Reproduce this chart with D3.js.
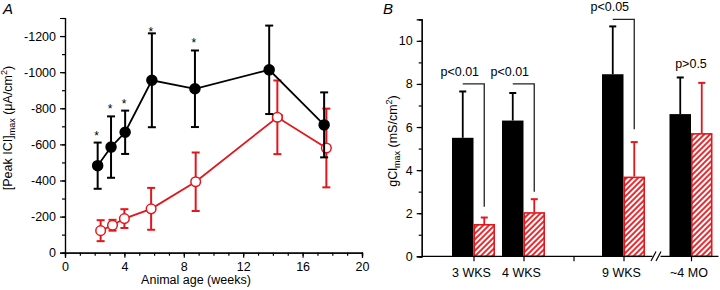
<!DOCTYPE html>
<html>
<head>
<meta charset="utf-8">
<script src="https://cdn.jsdelivr.net/npm/d3@7"></script>
<style>
  body { margin: 0; background: #fff; }
  svg { display: block; font-family: "Liberation Sans", Arial, sans-serif; }
</style>
</head>
<body>
<div id="chart"></div>
<script>
// Panel A: peak chloride current vs animal age
const ageWT = [2.2, 3.1, 4.05, 5.85, 8.75, 13.75, 17.45];
const peakWT = [-482, -585, -667, -955, -908, -1013, -708];
const errWT = [128, 170, 120, 260, 212, 245, 180];
const starWT = [true, true, true, true, true, false, false];

const ageMut = [2.4, 3.2, 4.0, 5.8, 8.8, 14.3, 17.6];
const peakMut = [-122, -152, -189, -243, -393, -750, -580];
const errMut = [58, 30, 52, 116, 162, 204, 218];
const xerrMut = [0, 0.2, 0, 0, 0, 0.3, 0];

// Panel B: gCl max per age group
const groups = ["3 WKS", "4 WKS", "9 WKS", "~4 MO"];
const groupPos = [1, 2, 4, 5.35];
const gclWT = [5.5, 6.3, 8.45, 6.6];
const gclWTErr = [2.15, 1.28, 2.22, 1.7];
const gclMut = [1.5, 2.05, 3.7, 5.72];
const gclMutErr = [0.3, 0.6, 1.6, 2.33];
const pLabels = ["p<0.01", "p<0.01", "p<0.05", "p>0.5"];
const bracketTop = [8, 8, 11, null];
const bracketBottom = [2.3, 3.0, 5.9, null];

const RED = "#e3161c";
const W = 720, H = 290;
const svg = d3.select("#chart").append("svg").attr("width", W).attr("height", H);

const defs = svg.append("defs");
const pat = defs.append("pattern")
  .attr("id", "hatch").attr("patternUnits", "userSpaceOnUse")
  .attr("width", 4).attr("height", 4)
  .attr("patternTransform", "rotate(45)");
pat.append("rect").attr("width", 4).attr("height", 4).attr("fill", "#fff");
pat.append("line").attr("x1", 1).attr("y1", 0).attr("x2", 1).attr("y2", 4)
  .attr("stroke", RED).attr("stroke-width", 1.8);

function styleAxis(g) {
  g.select(".domain").attr("stroke", "#000").attr("stroke-width", 1.2);
  g.selectAll(".tick line").attr("stroke", "#000").attr("stroke-width", 1.2);
  g.selectAll(".tick text").attr("fill", "#000").style("font-size", "12.5px")
    .style("font-family", "'Liberation Sans', Arial, sans-serif");
}

// ---------- Panel A ----------
const xA = d3.scaleLinear().domain([0, 20]).range([65, 362]);
const yA = d3.scaleLinear().domain([0, -1300]).range([252.7, 18]);
const gA = svg.append("g");

// minor ticks
gA.append("g").attr("transform", "translate(0,252.7)")
  .call(d3.axisBottom(xA).tickValues(d3.range(0, 21, 1)).tickSize(3).tickFormat(""))
  .call(styleAxis);
gA.append("g").attr("transform", "translate(65,0)")
  .call(d3.axisLeft(yA).tickValues(d3.range(0, -1301, -100)).tickSize(3).tickFormat(""))
  .call(styleAxis);
// major ticks
gA.append("g").attr("transform", "translate(0,252.7)")
  .call(d3.axisBottom(xA).tickValues([0, 4, 8, 12, 16, 20]).tickSize(5).tickPadding(4).tickFormat(d => String(d)))
  .call(styleAxis);
gA.append("g").attr("transform", "translate(65,0)")
  .call(d3.axisLeft(yA).tickValues(d3.range(0, -1201, -200)).tickSize(5).tickPadding(4).tickFormat(d => String(d)))
  .call(styleAxis);

gA.append("text").attr("x", 196).attr("y", 284).attr("text-anchor", "middle")
  .style("font-size", "12.5px").text("Animal age (weeks)");
const ylabA = gA.append("text").attr("transform", "translate(12,128) rotate(-90)")
  .attr("text-anchor", "middle").style("font-size", "12.5px");
ylabA.append("tspan").text("[Peak ICI]");
ylabA.append("tspan").attr("dy", 3).style("font-size", "9px").text("max");
ylabA.append("tspan").attr("dy", -3).text(" (\u03BCA/cm");
ylabA.append("tspan").attr("dy", -5).style("font-size", "9px").text("2");
ylabA.append("tspan").attr("dy", 5).text(")");
svg.append("text").attr("x", 3).attr("y", 14).style("font-size", "15px")
  .style("font-style", "italic").text("A");

function series(ages, vals, errs, color, filled, xerrs) {
  const g = gA.append("g");
  const idx = d3.range(ages.length);
  const line = d3.line().x(i => xA(ages[i])).y(i => yA(vals[i]));
  g.append("path").datum(idx).attr("d", line).attr("fill", "none")
    .attr("stroke", color).attr("stroke-width", 1.8);
  idx.forEach(i => {
    const x = xA(ages[i]);
    const y1 = yA(vals[i] - errs[i]), y2 = yA(vals[i] + errs[i]);
    g.append("line").attr("x1", x).attr("x2", x).attr("y1", y1).attr("y2", y2)
      .attr("stroke", color).attr("stroke-width", 2);
    [y1, y2].forEach(y => g.append("line").attr("x1", x - 4).attr("x2", x + 4)
      .attr("y1", y).attr("y2", y).attr("stroke", color).attr("stroke-width", 2));
    if (xerrs && xerrs[i] > 0) {
      const xa = xA(ages[i] - xerrs[i]), xb = xA(ages[i] + xerrs[i]), y = yA(vals[i]);
      g.append("line").attr("x1", xa).attr("x2", xb).attr("y1", y).attr("y2", y)
        .attr("stroke", color).attr("stroke-width", 2);
      [xa, xb].forEach(xx => g.append("line").attr("x1", xx).attr("x2", xx)
        .attr("y1", y - 3).attr("y2", y + 3).attr("stroke", color).attr("stroke-width", 2));
    }
  });
  g.selectAll("circle").data(idx).join("circle")
    .attr("cx", i => xA(ages[i])).attr("cy", i => yA(vals[i])).attr("r", filled ? 5 : 4.8)
    .attr("fill", filled ? color : "#fff").attr("stroke", color).attr("stroke-width", 1.5);
}
series(ageMut, peakMut, errMut, RED, false, xerrMut);
series(ageWT, peakWT, errWT, "#000", true, null);

ageWT.forEach((a, i) => {
  if (!starWT[i]) return;
  const top = yA(peakWT[i] - errWT[i]);
  gA.append("text").attr("x", xA(a) - 1).attr("y", Math.max(top - 3, 36))
    .attr("text-anchor", "middle").style("font-size", "12px").text("*");
});

// ---------- Panel B ----------
const xB = d3.scaleLinear().domain([0, 5.9]).range([423.5, 718.5]);
const yB = d3.scaleLinear().domain([0, 11]).range([256.3, 19.3]);
const gB = svg.append("g");
const bw = 0.43;

gB.append("g").attr("transform", "translate(421.7,0)")
  .call(d3.axisLeft(yB).tickValues(d3.range(0, 12, 1)).tickSize(3).tickFormat(""))
  .call(styleAxis);
gB.append("g").attr("transform", "translate(421.7,0)")
  .call(d3.axisLeft(yB).tickValues([0, 2, 4, 6, 8, 10]).tickSize(5).tickPadding(4))
  .call(styleAxis);

const bars = gB.append("g");
groupPos.forEach((p, i) => {
  const x0 = xB(p - bw), x1 = xB(p), x2 = xB(p + bw);
  // WT error bar
  const cw = (x1 - x0) / 2 + x0;
  bars.append("line").attr("x1", cw).attr("x2", cw)
    .attr("y1", yB(gclWT[i])).attr("y2", yB(gclWT[i] + gclWTErr[i]))
    .attr("stroke", "#000").attr("stroke-width", 1.8);
  bars.append("line").attr("x1", cw - 3.5).attr("x2", cw + 3.5)
    .attr("y1", yB(gclWT[i] + gclWTErr[i])).attr("y2", yB(gclWT[i] + gclWTErr[i]))
    .attr("stroke", "#000").attr("stroke-width", 2);
  bars.append("rect").attr("x", x0).attr("y", yB(gclWT[i]))
    .attr("width", x1 - x0).attr("height", yB(0) - yB(gclWT[i])).attr("fill", "#000");
  // mutant
  const cm = (x2 - x1) / 2 + x1;
  bars.append("line").attr("x1", cm).attr("x2", cm)
    .attr("y1", yB(gclMut[i])).attr("y2", yB(gclMut[i] + gclMutErr[i]))
    .attr("stroke", RED).attr("stroke-width", 1.8);
  bars.append("line").attr("x1", cm - 3.5).attr("x2", cm + 3.5)
    .attr("y1", yB(gclMut[i] + gclMutErr[i])).attr("y2", yB(gclMut[i] + gclMutErr[i]))
    .attr("stroke", RED).attr("stroke-width", 2);
  bars.append("rect").attr("x", x1 + 0.8).attr("y", yB(gclMut[i]) + 0.8)
    .attr("width", x2 - x1 - 1.6).attr("height", yB(0) - yB(gclMut[i]) - 0.8)
    .attr("fill", "url(#hatch)").attr("stroke", RED).attr("stroke-width", 1.6);

  // brackets and p labels
  if (bracketTop[i] != null) {
    const yt = yB(bracketTop[i]);
    bars.append("path")
      .attr("d", `M${cw},${yt}H${cm}V${yB(bracketBottom[i])}`)
      .attr("fill", "none").attr("stroke", "#222").attr("stroke-width", 1.3);
    bars.append("text").attr("x", cw - 3).attr("y", yt - 8).attr("text-anchor", "middle")
      .style("font-size", "12.5px").text(pLabels[i]);
  } else {
    bars.append("text").attr("x", x1).attr("y", yB(gclWT[i] + gclWTErr[i]) - 9)
      .attr("text-anchor", "middle").style("font-size", "12.5px").text(pLabels[i]);
  }
});

const xAxB = gB.append("g").attr("transform", "translate(0,256.3)")
  .call(d3.axisBottom(xB).tickValues([1, 2, 3, 4, 5.35]).tickSize(5).tickFormat(""))
  .call(styleAxis);
xAxB.select(".domain").attr("d", `M421.7,0H718.5`);
groups.forEach((name, i) => {
  gB.append("text").attr("x", xB(groupPos[i]) - 2).attr("y", 277)
    .attr("text-anchor", "middle").style("font-size", "12.5px").text(name);
});
// axis break
const bx = xB(4.66);
gB.append("rect").attr("x", bx - 4).attr("y", 254).attr("width", 8).attr("height", 5).attr("fill", "#fff");
[-3, 2].forEach(dx => gB.append("line")
  .attr("x1", bx + dx - 2.5).attr("y1", 261).attr("x2", bx + dx + 2.5).attr("y2", 251.5)
  .attr("stroke", "#000").attr("stroke-width", 1.2));

const ylabB = gB.append("text").attr("transform", "translate(397,141) rotate(-90)")
  .attr("text-anchor", "middle").style("font-size", "12.5px");
ylabB.append("tspan").text("gCl");
ylabB.append("tspan").attr("dy", 3).style("font-size", "9px").text("max");
ylabB.append("tspan").attr("dy", -3).text(" (mS/cm");
ylabB.append("tspan").attr("dy", -5).style("font-size", "9px").text("2");
ylabB.append("tspan").attr("dy", 5).text(")");
svg.append("text").attr("x", 383).attr("y", 14).style("font-size", "15px")
  .style("font-style", "italic").text("B");
</script>
</body>
</html>
